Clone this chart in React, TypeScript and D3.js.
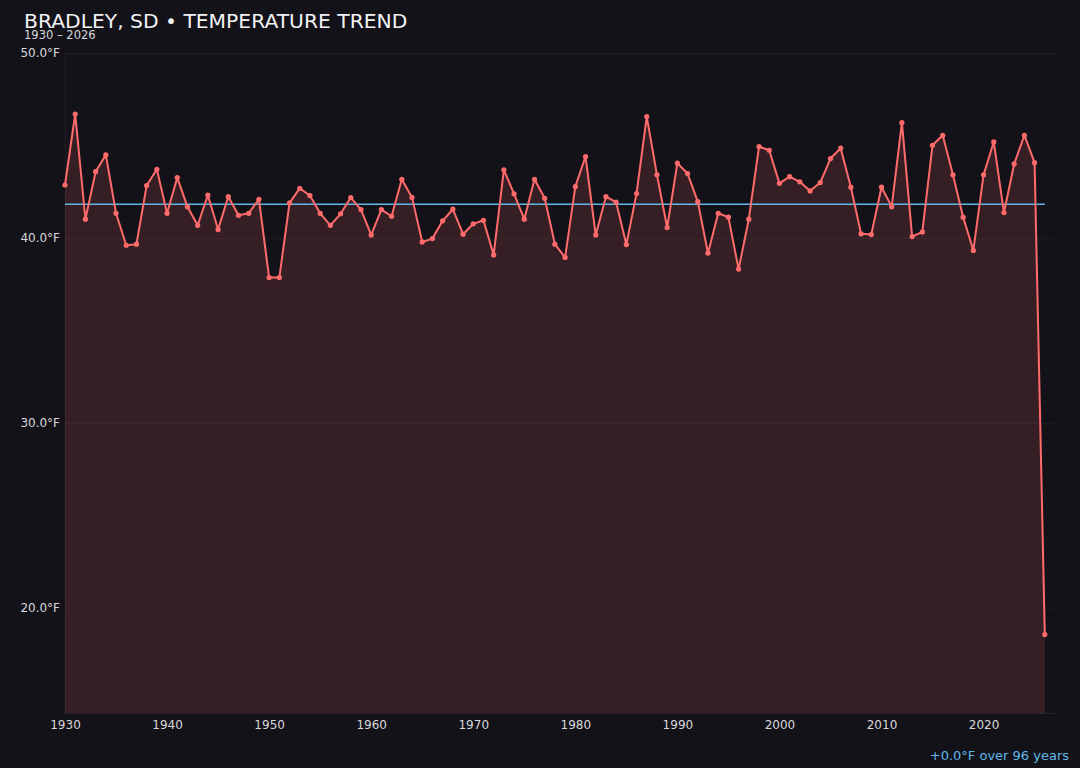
import { useRef, useEffect } from "react";
import * as d3 from "d3";

const years: number[] = d3.range(1930, 2027);
const temps: number[] = [
  42.86, 46.70, 41.01, 43.58, 44.49, 41.33, 39.60, 39.66, 42.83, 43.71,
  41.33, 43.26, 41.68, 40.68, 42.31, 40.45, 42.23, 41.22, 41.33, 42.09,
  37.85, 37.85, 41.89, 42.68, 42.29, 41.33, 40.68, 41.30, 42.18, 41.53,
  40.16, 41.53, 41.17, 43.17, 42.19, 39.78, 39.96, 40.92, 41.55, 40.20,
  40.76, 40.95, 39.08, 43.68, 42.38, 41.01, 43.17, 42.14, 39.66, 38.94,
  42.77, 44.40, 40.16, 42.23, 41.93, 39.64, 42.40, 46.56, 43.41, 40.56,
  44.04, 43.48, 41.96, 39.17, 41.33, 41.12, 38.31, 41.01, 44.94, 44.74,
  42.95, 43.31, 43.03, 42.54, 42.99, 44.29, 44.85, 42.74, 40.22, 40.18,
  42.74, 41.69, 46.23, 40.07, 40.32, 45.01, 45.55, 43.41, 41.12, 39.32,
  43.41, 45.19, 41.37, 44.00, 45.55, 44.07, 18.54,
];
const yTicks: number[] = [20, 30, 40, 50];
const xTicks: number[] = [1930, 1940, 1950, 1960, 1970, 1980, 1990, 2000, 2010, 2020];
const trendValue = 41.82;

export default function App() {
  const svgRef = useRef<SVGSVGElement>(null);

  useEffect(() => {
    if (!svgRef.current) return;
    const W = 1080, H = 768;
    const margin = { top: 53, right: 25, bottom: 55, left: 65 };
    const width = W - margin.left - margin.right;
    const height = H - margin.top - margin.bottom;

    const svg = d3.select(svgRef.current);
    svg.selectAll("*").remove();
    svg.attr("width", W).attr("height", H).style("font-family", "'DejaVu Sans', sans-serif");

    svg.append("rect").attr("width", W).attr("height", H).attr("fill", "#131218");

    const data = years.map((y, i) => ({ year: y, value: temps[i] }));
    const x = d3.scaleLinear().domain([1930, 2027]).range([0, width]);
    const y = d3.scaleLinear().domain([14.3, 50]).range([height, 0]);

    const g = svg.append("g").attr("transform", `translate(${margin.left},${margin.top})`);

    // grid
    g.append("g").call(d3.axisLeft(y).tickValues(yTicks).tickSize(-width).tickFormat(() => ""))
      .call(el => { el.select(".domain").remove(); el.selectAll("line").attr("stroke", "rgba(255,255,255,0.05)"); });

    // area
    const area = d3.area<{ year: number; value: number }>()
      .x(d => x(d.year)).y0(height).y1(d => y(d.value));
    g.append("path").datum(data).attr("d", area).attr("fill", "rgba(255,107,107,0.15)");

    // axes
    g.append("g").attr("transform", `translate(0,${height})`)
      .call(d3.axisBottom(x).tickValues(xTicks).tickFormat(d3.format("d")).tickSize(0).tickPadding(7))
      .call(el => {
        el.select(".domain").attr("stroke", "rgba(255,255,255,0.08)");
        el.selectAll("text").attr("fill", "#d8d8dc").attr("font-size", 12).attr("font-family", "'DejaVu Sans', sans-serif");
      });
    g.append("g")
      .call(d3.axisLeft(y).tickValues(yTicks).tickFormat(d => `${(+d).toFixed(1)}°F`).tickSize(0).tickPadding(5))
      .call(el => {
        el.select(".domain").attr("stroke", "rgba(255,255,255,0.06)");
        el.selectAll("text").attr("fill", "#d8d8dc").attr("font-size", 12).attr("font-family", "'DejaVu Sans', sans-serif");
      });

    // trend line
    g.append("line")
      .attr("x1", x(1930)).attr("x2", x(2026))
      .attr("y1", y(trendValue)).attr("y2", y(trendValue))
      .attr("stroke", "#5fb8e8").attr("stroke-width", 1.5);

    // data line
    const line = d3.line<{ year: number; value: number }>().x(d => x(d.year)).y(d => y(d.value));
    g.append("path").datum(data).attr("d", line)
      .attr("fill", "none").attr("stroke", "#ff6b6b").attr("stroke-width", 2).attr("stroke-linejoin", "round");
    g.selectAll(".dot").data(data).enter().append("circle")
      .attr("cx", d => x(d.year)).attr("cy", d => y(d.value)).attr("r", 2.6).attr("fill", "#ff6b6b");

    // titles
    svg.append("text").attr("x", 24).attr("y", 28).attr("fill", "#f2f2f4").attr("font-size", 20.3)
      .text("BRADLEY, SD • TEMPERATURE TREND");
    svg.append("text").attr("x", 24).attr("y", 39).attr("fill", "#d8d8dc").attr("font-size", 11.5)
      .text("1930 – 2026");
    svg.append("text").attr("x", 1069).attr("y", 760).attr("text-anchor", "end").attr("fill", "#5fb8e8").attr("font-size", 13)
      .text("+0.0°F over 96 years");
  }, []);

  return (
    <div style={{ position: "fixed", left: 0, top: 0, width: 1080, height: 768, background: "#131218" }}>
      <svg ref={svgRef} style={{ display: "block" }} />
    </div>
  );
}
